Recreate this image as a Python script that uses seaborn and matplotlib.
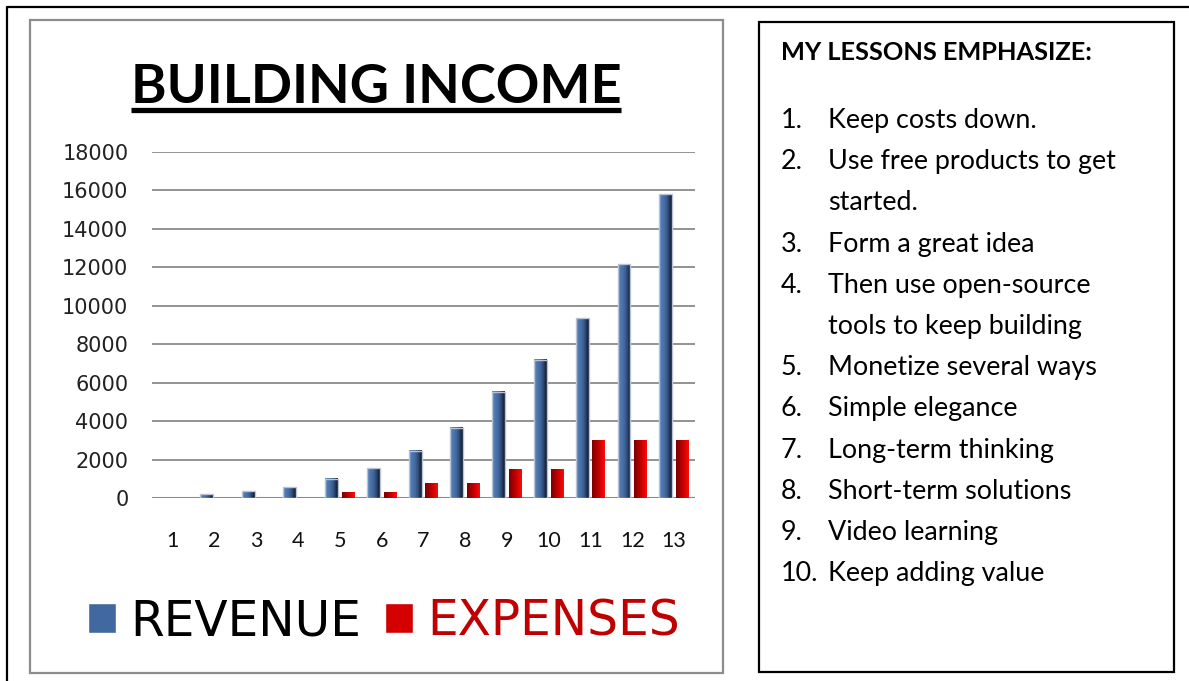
import numpy as np
import pandas as pd
import matplotlib
matplotlib.use("Agg")
import matplotlib.pyplot as plt
import seaborn as sns
from matplotlib.patches import Rectangle
from matplotlib.lines import Line2D
from matplotlib.colors import LinearSegmentedColormap

# ---------------- data ----------------
periods = [str(i) for i in range(1, 14)]
revenue = [0, 200, 350, 570, 990, 1560, 2460, 3650, 5530, 7190, 9340, 12170, 15810]
expenses = [0, 0, 0, 0, 270, 270, 740, 740, 1470, 1470, 3000, 3000, 3000]
series_names = ["REVENUE", "EXPENSES"]
y_ticks = [0, 2000, 4000, 6000, 8000, 10000, 12000, 14000, 16000, 18000]
title_text = "BUILDING INCOME"
panel_header = "MY LESSONS EMPHASIZE:"
lesson_numbers = ["1.", "2.", "", "3.", "4.", "", "5.", "6.", "7.", "8.", "9.", "10."]
lesson_lines = ["Keep costs down.", "Use free products to get", "started.",
                "Form a great idea", "Then use open-source", "tools to keep building",
                "Monetize several ways", "Simple elegance", "Long-term thinking",
                "Short-term solutions", "Video learning", "Keep adding value"]

df = pd.DataFrame({
    "period": periods * 2,
    "series": [series_names[0]] * len(periods) + [series_names[1]] * len(periods),
    "value": revenue + expenses,
})

W, H = 1189, 681
def fx(px):
    return px / W
def fy(py):
    return 1 - py / H

sns.set_theme(style="white")
plt.rcParams["font.family"] = ["DejaVu Sans"]

fig = plt.figure(figsize=(W / 100, H / 100), dpi=100)
fig.patch.set_facecolor("white")

ax = fig.add_axes([fx(152), fy(498), (695 - 152) / W, (498 - 152) / H])
palette = {"REVENUE": "#4169a0", "EXPENSES": "#d40000"}
sns.barplot(data=df, x="period", y="value", hue="series", hue_order=series_names,
            palette=palette, width=0.8, saturation=1, ax=ax, legend=True)

handles, labels = ax.get_legend_handles_labels()
if ax.get_legend() is not None:
    ax.get_legend().remove()

ax.set_xlim(-0.5, 12.5)
ax.set_ylim(0, 18000)
ax.set_yticks(y_ticks)
ax.set_yticklabels([str(v) for v in y_ticks])
ax.set_xlabel("")
ax.set_ylabel("")
for s in ax.spines.values():
    s.set_visible(False)
ax.yaxis.grid(True, color="#8a8a8a", lw=1.3)
ax.xaxis.grid(False)
ax.set_axisbelow(True)
ax.axhline(0, color="#8a8a8a", lw=2.2, zorder=0.5)
ax.tick_params(axis="y", length=0, pad=17, labelsize=15, labelcolor="#222222")
ax.tick_params(axis="x", length=0, pad=24, labelsize=15.5, labelcolor="#111111")
for t in ax.get_xticklabels():
    t.set_fontfamily("Lato")

# gradients for bars
blue_cmap = LinearSegmentedColormap.from_list(
    "rev", [(0, "#86a6d4"), (0.1, "#5580ba"), (0.5, "#42679e"), (0.72, "#2e4a75"),
            (0.88, "#1b2a43"), (1, "#101a2b")])
red_cmap = LinearSegmentedColormap.from_list(
    "exp", [(0, "#780000"), (0.5, "#c00000"), (1, "#ff0a0a")])
grad = np.linspace(0, 1, 256).reshape(1, -1)
bar_w = 0.31
for cont, cmap, name in zip(ax.containers, [blue_cmap, red_cmap], series_names):
    for bar in cont:
        w = bar.get_width()
        cx = bar.get_x() + w / 2
        bar.set_x(cx - bar_w / 2)
        bar.set_width(bar_w)
        h = bar.get_height()
        if h <= 0:
            bar.set_visible(False)
            continue
        bar.set_facecolor("none")
        if name == "REVENUE":
            bar.set_edgecolor("#b9c3d3")
            bar.set_linewidth(1.0)
        else:
            bar.set_edgecolor("none")
        bar.set_zorder(3)
        ax.imshow(grad, cmap=cmap, aspect="auto", interpolation="bicubic",
                  extent=[cx - bar_w / 2, cx + bar_w / 2, 0, h], zorder=2)
ax.set_xlim(-0.5, 12.5)
ax.set_ylim(0, 18000)
ax.set_aspect("auto")

# frames
fig.add_artist(Rectangle((fx(30), fy(673)), (723 - 30) / W, (673 - 20) / H,
                         transform=fig.transFigure, fill=False, ec="#8c8c8c", lw=1.6))
fig.add_artist(Line2D([fx(7), fx(7)], [fy(7), 0], transform=fig.transFigure, color="black", lw=1.6))
fig.add_artist(Line2D([fx(7), 1], [fy(7), fy(7)], transform=fig.transFigure, color="black", lw=1.6))
fig.add_artist(Rectangle((fx(759), fy(672)), (1174 - 759) / W, (672 - 22) / H,
                         transform=fig.transFigure, fill=False, ec="black", lw=1.6))

# title with underline
title = fig.text(fx(376), fy(103), title_text, ha="center", va="baseline",
                 fontsize=39, fontweight="bold", family="Lato", color="black")
fig.canvas.draw()
bb = title.get_window_extent()
fig.add_artist(Line2D([bb.x0 / W, bb.x1 / W], [fy(110), fy(110)], transform=fig.transFigure,
                      color="black", lw=3.8, solid_capstyle="butt"))

# legend
leg = fig.legend(handles, labels, loc="center", bbox_to_anchor=(fx(384), fy(621)), ncol=2,
                 frameon=False, fontsize=35, handlelength=0.58, handleheight=0.56,
                 handletextpad=0.29, columnspacing=0.5, borderpad=0, borderaxespad=0)
for txt, col in zip(leg.get_texts(), ["black", "#c00000"]):
    txt.set_color(col)

# right panel text
fig.text(fx(781), fy(60), panel_header, ha="left", va="baseline", fontsize=18.3,
         fontweight="bold", family="Lato", color="black")
for i, (num, line) in enumerate(zip(lesson_numbers, lesson_lines)):
    base = 119 + i * 41.2 + 9
    if num:
        fig.text(fx(781), fy(base), num, ha="left", va="baseline", fontsize=19.4,
                 family="Lato", color="black")
    fig.text(fx(828), fy(base), line, ha="left", va="baseline", fontsize=19.4,
             family="Lato", color="black")

fig.savefig("out.png", dpi=100, facecolor="white")
